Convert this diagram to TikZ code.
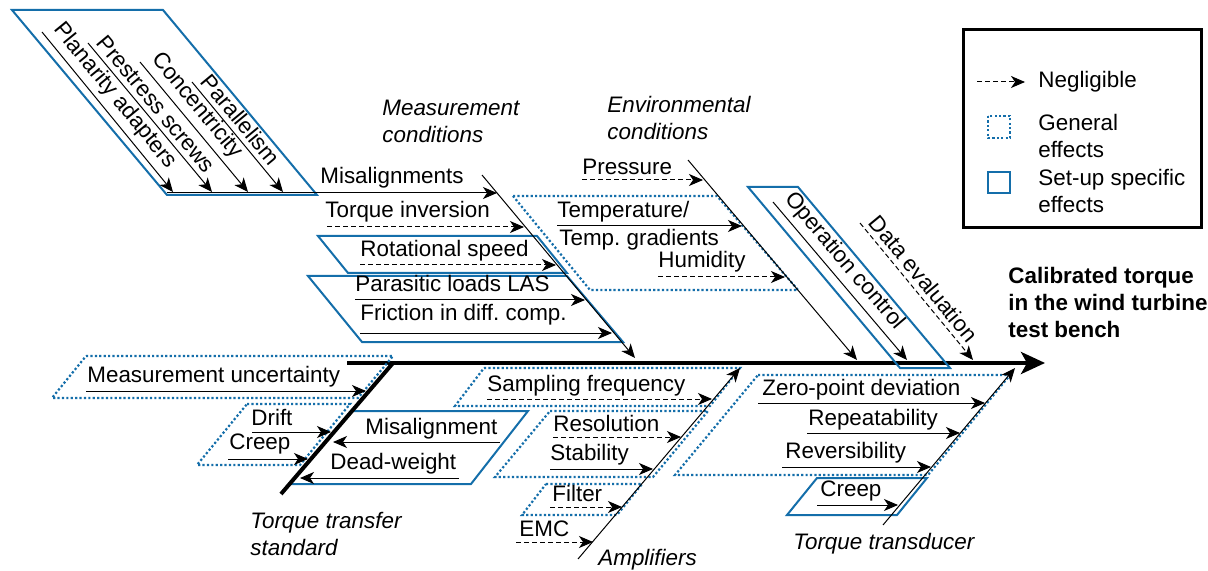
\documentclass[tikz,border=0pt]{standalone}
\usepackage{fontspec}
\setmainfont{Liberation Sans}
\usetikzlibrary{arrows.meta}
\definecolor{fbblue}{RGB}{20,110,170}
\newcommand{\fbsize}{\fontsize{11.2}{13.5}\selectfont\frenchspacing}

\tikzset{
  cause/.style={line width=0.5pt, -{Stealth[length=7pt, width=6pt, inset=2pt]}},
  negl/.style={cause, dash pattern=on 2.5pt off 1.5pt},
  general/.style={draw=fbblue, line width=1.1pt, dash pattern=on 1.1pt off 1.1pt},
  setup/.style={draw=fbblue, line width=1pt},
  lbl/.style={anchor=base west, inner sep=0pt, font=\fbsize},
  slab/.style={sloped, pos=0, anchor=south west, inner sep=2.5pt, font=\fbsize},
  cat/.style={anchor=north west, inner sep=0pt, align=left, font=\fbsize\itshape},
  leg/.style={anchor=north west, inner sep=0pt, align=left, font=\fbsize},
}

\begin{document}
\begin{tikzpicture}[x=0.5pt, y=-0.5pt]
\useasboundingbox (0,0) rectangle (1208,571);

% spine
\coordinate (spS) at (347,363);
\coordinate (spE) at (1045,363);
\draw[line width=2pt, -{Stealth[length=12pt, width=11pt, inset=3pt]}] (spS) -- (spE);
\node[anchor=north west, inner sep=0pt, align=left, font=\fbsize\bfseries] (goal)
  at (1008,267) {Calibrated torque\\in the wind turbine\\test bench};

% legend
\draw[line width=1.5pt] (963,30) rectangle (1201,228);
\coordinate (lgS) at (977,82);
\coordinate (lgE) at (1025,82);
\draw[negl] (lgS) -- (lgE);
\node[lbl] (lgNeg) at (1038,88) {Negligible};
\draw[general] (988,116) rectangle (1010,138);
\node[leg] (lgGen) at (1038,114) {General\\effects};
\draw[setup] (988,172) rectangle (1010,193);
\node[leg] (lgSet) at (1038,169) {Set-up specific\\effects};

% measurement conditions
\node[cat] (mcT) at (382,100) {Measurement\\conditions};
\draw[setup] (12,10) -- (163,10) -- (317,195) -- (167,195) -- cycle;
\draw[setup] (318,236) -- (537,236) -- (567,273) -- (348,273) -- cycle;
\draw[setup] (308,276) -- (567,276) -- (623,342) -- (362,342) -- cycle;
\coordinate (mcS) at (482,175);
\coordinate (mcE) at (635,358);
\draw[cause] (mcS) -- (mcE);
\coordinate (plS) at (42,32);   \coordinate (plE) at (173,192);
\coordinate (psS) at (88,43);   \coordinate (psE) at (212,192);
\coordinate (ccS) at (140,62);  \coordinate (ccE) at (248,192);
\coordinate (prS) at (192,82);  \coordinate (prE) at (283,192);
\draw[cause] (plS) -- node[slab] (plL) {Planarity adapters} (plE);
\draw[cause] (psS) -- node[slab] (psL) {Prestress screws} (psE);
\draw[cause] (ccS) -- node[slab] (ccL) {Concentricity} (ccE);
\draw[cause] (prS) -- node[slab] (prL) {Parallelism} (prE);
\coordinate (maS) at (167,193); \coordinate (maE) at (497,193);
\coordinate (tiS) at (327,227); \coordinate (tiE) at (524,227);
\coordinate (rsS) at (360,265); \coordinate (rsE) at (556,265);
\coordinate (plaS) at (355,300); \coordinate (plaE) at (585,300);
\coordinate (frS) at (360,333); \coordinate (frE) at (612,333);
\draw[cause] (maS) -- (maE);
\draw[negl] (tiS) -- (tiE);
\draw[negl] (rsS) -- (rsE);
\draw[cause] (plaS) -- (plaE);
\draw[cause] (frS) -- (frE);
\node[lbl] (maL) at (320,184) {Misalignments};
\node[lbl] (tiL) at (325,218) {Torque inversion};
\node[lbl] (rsL) at (360,257) {Rotational speed};
\node[lbl] (plaL) at (355,292) {Parasitic loads LAS};
\node[lbl] (frL) at (360,321) {Friction in diff. comp.};

% environmental conditions
\node[cat] (ecT) at (607,96) {Environmental\\conditions};
\draw[general] (513,196) -- (717,196) -- (798,290) -- (590,290) -- cycle;
\coordinate (ecS) at (688,160);
\coordinate (ecE) at (857,360);
\draw[cause] (ecS) -- (ecE);
\coordinate (prsS) at (582,180); \coordinate (prsE) at (703,180);
\coordinate (tmpS) at (557,226); \coordinate (tmpE) at (742,226);
\coordinate (humS) at (658,277); \coordinate (humE) at (785,277);
\draw[negl] (prsS) -- (prsE);
\draw[cause] (tmpS) -- (tmpE);
\draw[negl] (humS) -- (humE);
\node[lbl] (prsL) at (582,175) {Pressure};
\node[lbl] (tmpL) at (557,218) {Temperature/};
\node[lbl] (tmpL2) at (559,246) {Temp. gradients};
\node[lbl] (humL) at (658,268) {Humidity};

% operation control, data evaluation
\draw[setup] (748,187) -- (798,187) -- (950,368) -- (900,368) -- cycle;
\coordinate (ocS) at (773,202); \coordinate (ocE) at (907,360);
\coordinate (deS) at (860,223); \coordinate (deE) at (973,360);
\draw[cause] (ocS) -- node[slab] (ocL) {Operation control} (ocE);
\draw[negl] (deS) -- node[slab] (deL) {Data evaluation} (deE);

% torque transfer standard
\node[cat] (tsT) at (250,512) {Torque transfer\\standard};
\draw[general] (86,356) -- (393,356) -- (358,398) -- (52,398) -- cycle;
\draw[general] (247,404) -- (350,404) -- (300,465) -- (197,465) -- cycle;
\draw[setup] (352,411) -- (528,411) -- (471,484) -- (289,484) -- cycle;
\coordinate (tsS) at (281,494);
\coordinate (tsE) at (393,363);
\draw[line width=2pt] (tsS) -- (tsE);
\coordinate (muS) at (86,391);  \coordinate (muE) at (366,391);
\coordinate (drS) at (252,432); \coordinate (drE) at (331,432);
\coordinate (crS) at (228,459); \coordinate (crE) at (308,459);
\coordinate (mlS) at (500,442); \coordinate (mlE) at (333,442);
\coordinate (dwS) at (459,478); \coordinate (dwE) at (300,478);
\draw[cause] (muS) -- (muE);
\draw[cause] (drS) -- (drE);
\draw[cause] (crS) -- (crE);
\draw[cause] (mlS) -- (mlE);
\draw[cause] (dwS) -- (dwE);
\node[lbl] (muL) at (87,382) {Measurement uncertainty};
\node[lbl] (drL) at (251,425) {Drift};
\node[lbl] (crL) at (229,449) {Creep};
\node[lbl] (mlL) at (365,434) {Misalignment};
\node[lbl] (dwL) at (330,469) {Dead-weight};

% amplifiers
\node[cat] (amT) at (598,549) {Amplifiers};
\draw[general] (484,368) -- (740,368) -- (710,406) -- (455,406) -- cycle;
\draw[general] (550,411) -- (708,411) -- (653,477) -- (495,477) -- cycle;
\draw[general] (546,484) -- (642,484) -- (617,515) -- (522,515) -- cycle;
\coordinate (amS) at (578,559);
\coordinate (amE) at (740,368);
\draw[cause] (amS) -- (amE);
\coordinate (sfS) at (487,399); \coordinate (sfE) at (712,399);
\coordinate (reS) at (553,437); \coordinate (reE) at (681,437);
\coordinate (stS) at (550,469); \coordinate (stE) at (653,469);
\coordinate (fiS) at (550,507); \coordinate (fiE) at (622,507);
\coordinate (emS) at (516,542); \coordinate (emE) at (593,542);
\draw[negl] (sfS) -- (sfE);
\draw[negl] (reS) -- (reE);
\draw[cause] (stS) -- (stE);
\draw[negl] (fiS) -- (fiE);
\draw[negl] (emS) -- (emE);
\node[lbl] (sfL) at (487,391) {Sampling frequency};
\node[lbl] (reL) at (553,431) {Resolution};
\node[lbl] (stL) at (550,460) {Stability};
\node[lbl] (fiL) at (552,501) {Filter};
\node[lbl] (emL) at (519,536) {EMC};

% torque transducer
\node[cat] (tdT) at (793,533) {Torque transducer};
\draw[general] (758,375) -- (1010,375) -- (928,475) -- (675,475) -- cycle;
\draw[setup] (817,478) -- (927,478) -- (897,515) -- (787,515) -- cycle;
\coordinate (tdS) at (883,525);
\coordinate (tdE) at (1015,368);
\draw[cause] (tdS) -- (tdE);
\coordinate (zpS) at (758,403); \coordinate (zpE) at (985,403);
\coordinate (rpS) at (807,433); \coordinate (rpE) at (960,433);
\coordinate (rvS) at (782,467); \coordinate (rvE) at (931,467);
\coordinate (tcS) at (817,505); \coordinate (tcE) at (898,505);
\draw[cause] (zpS) -- (zpE);
\draw[cause] (rpS) -- (rpE);
\draw[cause] (rvS) -- (rvE);
\draw[cause] (tcS) -- (tcE);
\node[lbl] (zpL) at (762,395) {Zero-point deviation};
\node[lbl] (rpL) at (808,425) {Repeatability};
\node[lbl] (rvL) at (785,458) {Reversibility};
\node[lbl] (tcL) at (820,496) {Creep};
\end{tikzpicture}
\end{document}
